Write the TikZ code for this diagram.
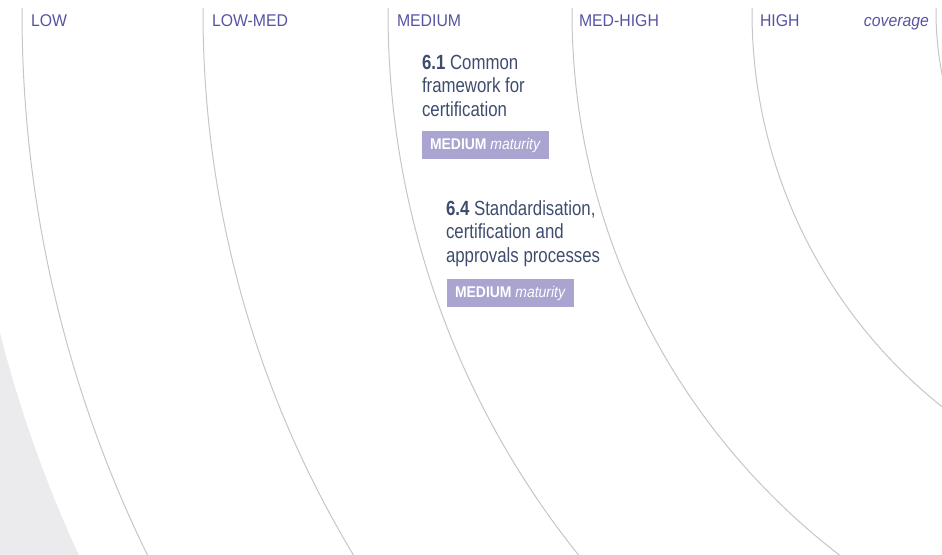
\documentclass[tikz,border=0pt]{standalone}
\usepackage{fontspec}
\setmainfont{Liberation Sans}
\newfontfamily\lblfont[FakeStretch=0.93]{Liberation Sans}
\newfontfamily\bodyfont[FakeStretch=0.82]{Liberation Sans}
\newfontfamily\badgefont[FakeStretch=0.9]{Liberation Sans}
\definecolor{lblblue}{RGB}{86,84,162}
\definecolor{bodydark}{RGB}{62,77,110}
\definecolor{badgefill}{RGB}{169,165,208}
\definecolor{greyfill}{RGB}{235,235,238}
\definecolor{arcgrey}{RGB}{198,198,198}
\tikzset{
  bandlabel/.style={anchor=base west, inner sep=0pt, outer sep=0pt, text=lblblue, font=\lblfont\fontsize{17}{20}\selectfont},
  bodytext/.style={anchor=base west, inner sep=0pt, outer sep=0pt, align=left, text=bodydark, font=\bodyfont\fontsize{20.5}{23.7}\selectfont},
  badge/.style={anchor=base west, fill=badgefill, text=white, inner xsep=8pt, inner ysep=0pt, outer sep=0pt, text height=18.3pt, text depth=9.7pt, font=\badgefont\fontsize{15.5}{18}\selectfont},
  ring/.style={draw=arcgrey, line width=1pt}
}
\begin{document}
\begin{tikzpicture}[x=1pt,y=-1pt]
\useasboundingbox (0,0) rectangle (942,554);
\coordinate (c) at (1257,12);
% grey band outside the outermost ring
\fill[greyfill, even odd rule] (-10,-10) rectangle (952,564) (c) circle[radius=1297pt];
% rings
\begin{scope}
\clip (0,8) rectangle (942,554);
\draw[ring] (c) circle[radius=1235pt];
\draw[ring] (c) circle[radius=1054pt];
\draw[ring] (c) circle[radius=869pt];
\draw[ring] (c) circle[radius=685pt];
\draw[ring] (c) circle[radius=505pt];
\draw[ring] (c) circle[radius=321pt];
\end{scope}
% band labels
\node[bandlabel] (low) at (31,26) {LOW};
\node[bandlabel] (lowmed) at (212,26) {LOW-MED};
\node[bandlabel] (medium) at (397,26) {MEDIUM};
\node[bandlabel] (medhigh) at (579,26) {MED-HIGH};
\node[bandlabel] (high) at (760,26) {HIGH};
\node[bandlabel, anchor=base east] (coverage) at (929,26) {\itshape coverage};
% items (anchor = baseline of the last line)
\node[bodytext] (t61) at (422,116.4) {\textbf{6.1} Common\\framework for\\certification};
\node[badge] (b61) at (422,149.3) {\textbf{MEDIUM} \textit{maturity}};
\node[bodytext] (t64) at (446,262.4) {\textbf{6.4} Standardisation,\\certification and\\approvals processes};
\node[badge] (b64) at (447,297.3) {\textbf{MEDIUM} \textit{maturity}};
\end{tikzpicture}
\end{document}
